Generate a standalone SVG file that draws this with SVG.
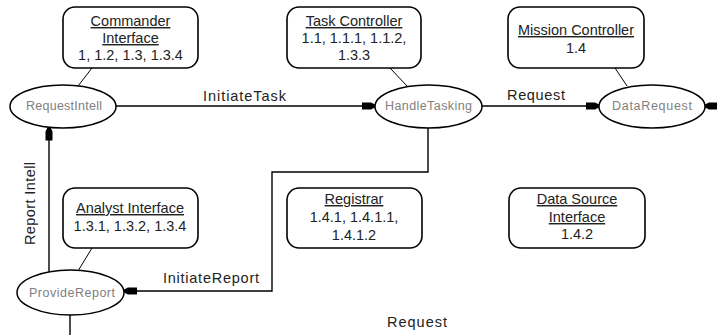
<svg xmlns="http://www.w3.org/2000/svg" width="717" height="335" viewBox="0 0 717 335">
<style>
.box{fill:#fff;stroke:#000;stroke-width:1.6}
.ell{fill:#fff;stroke:#000;stroke-width:1.5}
.t{font-family:"Liberation Sans",Arial,sans-serif;font-size:14.5px;fill:#222;text-anchor:middle}
.u{text-decoration:underline}
.e{font-family:"Liberation Sans",Arial,sans-serif;font-size:12.5px;fill:#808080;text-anchor:middle}
.c{fill:none;stroke:#000;stroke-width:1.4}
.thin{fill:none;stroke:#000;stroke-width:1}
</style>
<defs>
<marker id="blk" viewBox="0 -5 13 10" markerUnits="userSpaceOnUse" markerWidth="13" markerHeight="10" refX="13" refY="0" orient="auto">
<path d="M0,-3.5 H9 L13,-1.5 V1.5 L9,3.5 H0 Z" fill="#000"/>
</marker>
</defs>
<g id="connectors">
<line class="thin" x1="92" y1="68" x2="78" y2="86"/>
<line class="thin" x1="390" y1="68" x2="407" y2="86"/>
<line class="thin" x1="615" y1="68" x2="627" y2="86"/>
<line class="thin" x1="92" y1="248" x2="78" y2="271"/>
<line class="c" x1="116" y1="106" x2="375" y2="106" marker-end="url(#blk)"/>
<line class="c" x1="482" y1="106" x2="599" y2="106" marker-end="url(#blk)"/>
<line class="c" x1="730" y1="106" x2="705" y2="106" marker-end="url(#blk)"/>
<polyline class="c" points="428,128 428,172 272,172 272,291 124,291" marker-end="url(#blk)"/>
<line class="c" x1="49" y1="272" x2="49" y2="127.5" marker-end="url(#blk)"/>
<line class="c" x1="70" y1="315" x2="70" y2="340"/>
<text class="t" x="244.5" y="101" textLength="83" lengthAdjust="spacing">InitiateTask</text>
<text class="t" x="536" y="100" textLength="58" lengthAdjust="spacing">Request</text>
<text class="t" x="211" y="283" textLength="96" lengthAdjust="spacing">InitiateReport</text>
<text class="t" x="417" y="327" textLength="60" lengthAdjust="spacing">Request</text>
<text class="t" transform="translate(35,203.5) rotate(-90)" x="0" y="0" textLength="83" lengthAdjust="spacing">Report Intell</text>
</g>
<g id="commander-interface">
<rect class="box" x="63" y="7" width="135" height="61" rx="12"/>
<text class="t u" x="130.5" y="26">Commander</text>
<text class="t u" x="130.5" y="43">Interface</text>
<text class="t" x="130.5" y="60">1, 1.2, 1.3, 1.3.4</text>
</g>
<g id="task-controller">
<rect class="box" x="287" y="7" width="134" height="61" rx="12"/>
<text class="t u" x="354" y="26">Task Controller</text>
<text class="t" x="354" y="43">1.1, 1.1.1, 1.1.2,</text>
<text class="t" x="354" y="60">1.3.3</text>
</g>
<g id="mission-controller">
<rect class="box" x="508" y="7" width="136" height="61" rx="12"/>
<text class="t u" x="576" y="35">Mission Controller</text>
<text class="t" x="576" y="53">1.4</text>
</g>
<g id="analyst-interface">
<rect class="box" x="63" y="188" width="135" height="60" rx="12"/>
<text class="t u" x="130" y="213">Analyst Interface</text>
<text class="t" x="130" y="231">1.3.1, 1.3.2, 1.3.4</text>
</g>
<g id="registrar">
<rect class="box" x="287" y="188" width="135" height="60" rx="12"/>
<text class="t u" x="354" y="204">Registrar</text>
<text class="t" x="354" y="222">1.4.1, 1.4.1.1,</text>
<text class="t" x="354" y="240">1.4.1.2</text>
</g>
<g id="data-source-interface">
<rect class="box" x="509" y="188" width="136" height="60" rx="12"/>
<text class="t u" x="577" y="204">Data Source</text>
<text class="t u" x="577" y="222">Interface</text>
<text class="t" x="577" y="239">1.4.2</text>
</g>
<g id="request-intell">
<ellipse class="ell" cx="63" cy="106.5" rx="53" ry="21.5"/>
<text class="e" x="64" y="110" textLength="76" lengthAdjust="spacing">RequestIntell</text>
</g>
<g id="handle-tasking">
<ellipse class="ell" cx="428.5" cy="106.5" rx="53.5" ry="21.5"/>
<text class="e" x="428.5" y="110" textLength="87" lengthAdjust="spacing">HandleTasking</text>
</g>
<g id="data-request">
<ellipse class="ell" cx="652" cy="106.5" rx="53" ry="21.5"/>
<text class="e" x="652" y="110" textLength="80" lengthAdjust="spacing">DataRequest</text>
</g>
<g id="provide-report">
<ellipse class="ell" cx="70.5" cy="292.5" rx="53.5" ry="22.5"/>
<text class="e" x="72" y="297" textLength="86" lengthAdjust="spacing">ProvideReport</text>
</g>
</svg>
